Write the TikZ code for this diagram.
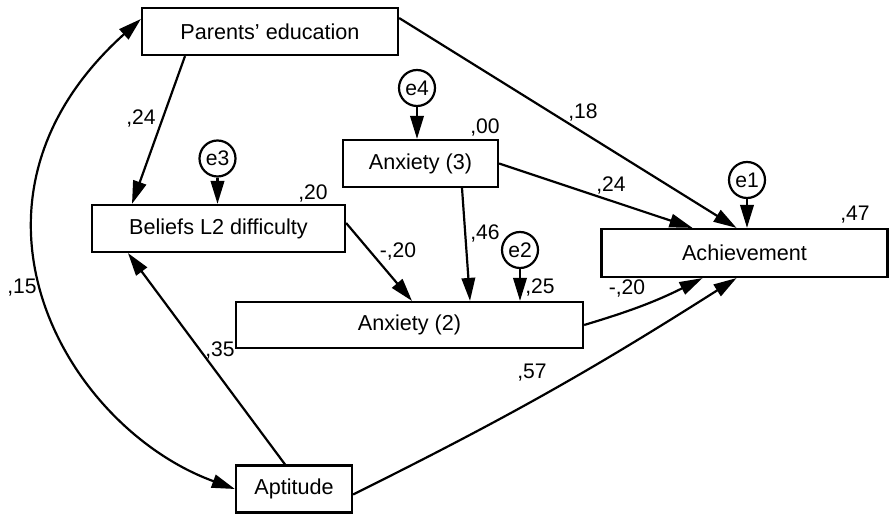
\documentclass[tikz,border=0pt]{standalone}
\usepackage{fontspec}
\setmainfont{Liberation Sans}
\usetikzlibrary{arrows.meta}

\tikzset{
  var/.style={draw,line width=1.25pt,minimum height=0.94cm,inner sep=0pt,font=\fontsize{12.3}{14}\selectfont},
  err/.style={draw,circle,line width=1.25pt,minimum size=0.72cm,inner sep=0pt,font=\fontsize{12}{13}\selectfont},
  coef/.style={inner sep=0pt,font=\fontsize{12}{14}\selectfont},
  effect/.style={line width=1.25pt,-{Triangle[length=0.46cm,width=0.27cm]}},
}

\begin{document}
\begin{tikzpicture}
\useasboundingbox (0,0) rectangle (17.78,10.3);
\node[var,minimum width=5.12cm] (pe) at (5.40,9.67) {Parents’ education};
\node[var,minimum width=3.10cm] (ax3) at (8.41,7.03) {Anxiety (3)};
\node[var,minimum width=5.06cm] (bel) at (4.37,5.73) {Beliefs L2 difficulty};
\node[var,minimum width=5.72cm,minimum height=0.96cm] (ach) at (14.89,5.24) {Achievement};
\node[var,minimum width=6.94cm,minimum height=0.92cm] (ax2) at (8.19,3.80) {Anxiety (2)};
\node[var,minimum width=2.32cm] (apt) at (5.88,0.52) {Aptitude};

\node[err] (e4) at (8.34,8.54) {e4};
\node[err] (e3) at (4.35,7.13) {e3};
\node[err] (e1) at (14.94,6.70) {e1};
\node[err] (e2) at (10.40,5.30) {e2};

\draw[effect] (e4.south) -- (e4.south |- ax3.north);
\draw[effect] (e3.south) -- (e3.south |- bel.north);
\draw[effect] (e1.south) -- (e1.south |- ach.north);
\draw[effect] (e2.south) -- (e2.south |- ax2.north);

\draw[effect] ([xshift=-1.70cm]pe.south) -- ([xshift=-1.73cm]bel.north);
\draw[effect] ([yshift=0.27cm]pe.east) -- ([xshift=-0.16cm]ach.north);
\draw[effect] (ax3.east) -- ([xshift=-1.04cm]ach.north);
\draw[effect] ([xshift=0.83cm]ax3.south) -- ([xshift=1.21cm]ax2.north);
\draw[effect] ([yshift=0.11cm]bel.east) -- ([xshift=0.05cm]ax2.north);
\draw[effect] ([xshift=-0.18cm]apt.north) -- ([xshift=-1.81cm]bel.south);
\draw[effect] (ax2.east) to[bend right=5] ([xshift=-0.84cm]ach.south);
\draw[effect] ([yshift=-0.11cm]apt.east) to[bend right=3] ([xshift=-0.16cm]ach.south);
\draw[effect,{Triangle[length=0.46cm,width=0.27cm]}-{Triangle[length=0.46cm,width=0.27cm]}] ([yshift=0.25cm]pe.west) .. controls +(222:5.5) and +(160:3.6) .. (apt.west);

\node[coef] (c24a) at (2.82,7.94) {,24};
\node[coef] (r20) at (6.26,6.44) {,20};
\node[coef] (r00) at (9.70,7.76) {,00};
\node[coef] (c18) at (11.66,8.06) {,18};
\node[coef] (c24b) at (12.22,6.60) {,24};
\node[coef] (r47) at (17.10,6.00) {,47};
\node[coef] (c46) at (9.70,5.64) {,46};
\node[coef] (r25) at (10.80,4.56) {,25};
\node[coef] (c20a) at (7.96,5.28) {-,20};
\node[coef] (c20b) at (12.54,4.54) {-,20};
\node[coef] (c57) at (10.64,2.84) {,57};
\node[coef] (c35) at (4.40,3.30) {,35};
\node[coef] (c15) at (0.44,4.54) {,15};
\end{tikzpicture}
\end{document}
